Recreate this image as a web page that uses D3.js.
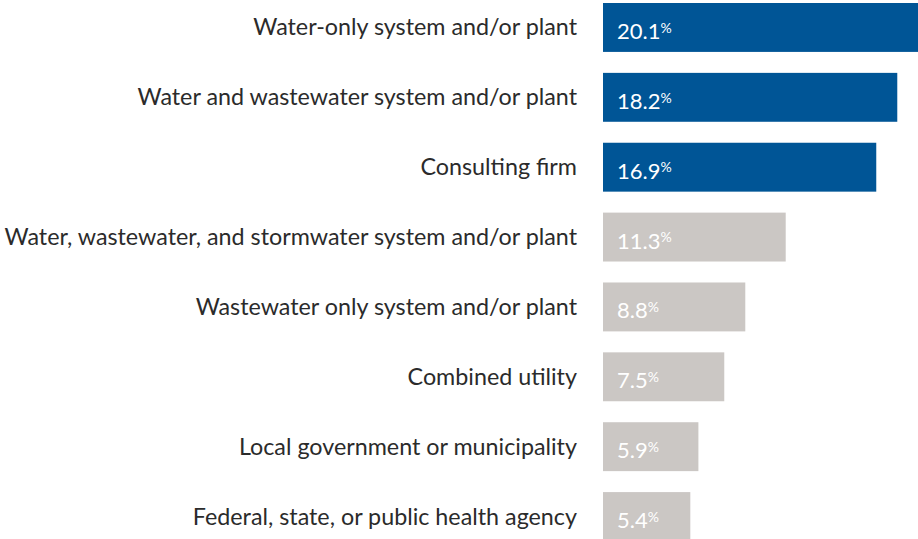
<!DOCTYPE html>
<html>
<head>
<meta charset="utf-8">
<script src="https://cdn.jsdelivr.net/npm/d3@7"></script>
<style>
  body { margin: 0; background: #fff; }
  svg { display: block; font-family: Lato, 'Open Sans', sans-serif; }
</style>
</head>
<body>
<svg id="chart"></svg>
<script>
const categories = [
  'Water-only system and/or plant',
  'Water and wastewater system and/or plant',
  'Consulting firm',
  'Water, wastewater, and stormwater system and/or plant',
  'Wastewater only system and/or plant',
  'Combined utility',
  'Local government or municipality',
  'Federal, state, or public health agency'
];
const values = [20.1, 18.2, 16.9, 11.3, 8.8, 7.5, 5.9, 5.4];
const highlighted = [true, true, true, false, false, false, false, false];

const width = 918;
const height = 539;
const barLeft = 603;

const data = categories.map((c, i) => ({label: c, value: values[i], hl: highlighted[i]}));

const svg = d3.select('#chart')
  .attr('width', width)
  .attr('height', height);

const x = d3.scaleLinear()
  .domain([0, 20.1])
  .range([barLeft, barLeft + 325]);

const y = d3.scaleBand()
  .domain(categories)
  .range([3, 541])
  .paddingInner(0.3)
  .paddingOuter(0);

const rows = svg.selectAll('.row')
  .data(data)
  .enter()
  .append('g')
  .attr('class', 'row')
  .attr('transform', d => `translate(0, ${y(d.label)})`);

rows.append('rect')
  .attr('x', x(0))
  .attr('y', 0)
  .attr('width', d => x(d.value) - x(0))
  .attr('height', y.bandwidth())
  .attr('fill', d => d.hl ? '#005596' : '#cbc7c4');

rows.append('text')
  .attr('x', x(0) - 26)
  .attr('y', y.bandwidth() / 2 + 8)
  .attr('text-anchor', 'end')
  .attr('fill', '#2b2b2b')
  .style('font-size', '23.3px')
  .text(d => d.label);

const val = rows.append('text')
  .attr('x', x(0) + 14)
  .attr('y', y.bandwidth() / 2 + 11.5)
  .attr('fill', '#fff')
  .style('font-size', '22px');

val.append('tspan')
  .text(d => d.value.toFixed(1));

val.append('tspan')
  .attr('dy', '-0.45em')
  .style('font-size', '14px')
  .text('%');
</script>
</body>
</html>
